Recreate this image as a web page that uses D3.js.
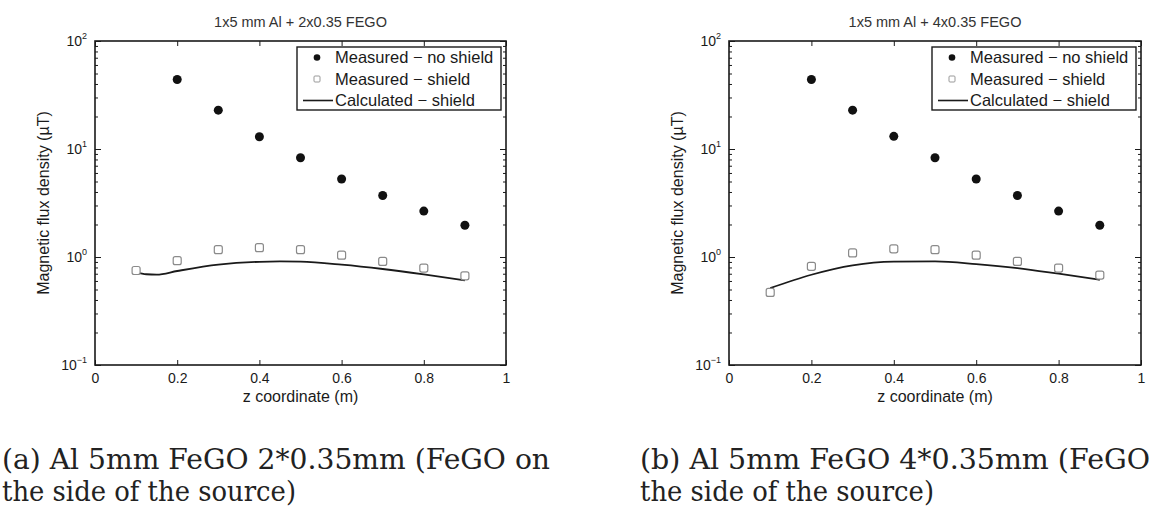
<!DOCTYPE html>
<html>
<head>
<meta charset="utf-8">
<script src="https://cdn.jsdelivr.net/npm/d3@7/dist/d3.min.js"></script>
<style>
  html, body { margin: 0; padding: 0; background: #fff; }
  svg { display: block; }
</style>
</head>
<body>
<svg id="chart" width="1152" height="514"></svg>
<script>
// ---------------- DATA ----------------
const titles = ["1x5 mm Al + 2x0.35 FEGO", "1x5 mm Al + 4x0.35 FEGO"];
const captionsA = ["(a) Al 5mm FeGO 2*0.35mm (FeGO on", "the side of the source)"];
const captionsB = ["(b) Al 5mm FeGO 4*0.35mm (FeGO", "the side of the source)"];
const legendLabels = ["Measured \u2212 no shield", "Measured \u2212 shield", "Calculated \u2212 shield"];
const xLabel = "z coordinate (m)";
const yLabel = "Magnetic flux density (\u00B5T)";

const xTicks = [0, 0.2, 0.4, 0.6, 0.8, 1];
const xTickLabels = ["0", "0.2", "0.4", "0.6", "0.8", "1"];
const yTicks = [0.1, 1, 10, 100];
const yTickExponents = ["\u22121", "0", "1", "2"];

const zNoShield = [0.2, 0.3, 0.4, 0.5, 0.6, 0.7, 0.8, 0.9];
const noShieldA = [44, 22.9, 13.0, 8.3, 5.27, 3.71, 2.66, 1.97];
const noShieldB = [44, 22.9, 13.1, 8.3, 5.27, 3.71, 2.66, 1.97];

const zShield = [0.1, 0.2, 0.3, 0.4, 0.5, 0.6, 0.7, 0.8, 0.9];
const shieldA = [0.75, 0.925, 1.17, 1.22, 1.17, 1.04, 0.91, 0.79, 0.67];
const shieldB = [0.47, 0.82, 1.09, 1.19, 1.17, 1.04, 0.91, 0.79, 0.68];

const zCalcA = [0.1, 0.125, 0.15, 0.2, 0.3, 0.4, 0.45, 0.5, 0.6, 0.7, 0.8, 0.9];
const calcA = [0.721, 0.692, 0.686, 0.742, 0.849, 0.903, 0.91, 0.905, 0.849, 0.774, 0.69, 0.607];
const zCalcB = [0.1, 0.2, 0.3, 0.4, 0.5, 0.6, 0.7, 0.8, 0.9];
const calcB = [0.515, 0.685, 0.837, 0.905, 0.91, 0.86, 0.79, 0.70, 0.615];

// ---------------- DRAW ----------------
const svg = d3.select("#chart");
const FONT = "'Liberation Sans', Arial, sans-serif";
const INK = "#1a1a1a";

function panel(opts) {
  const {left, right, top, bottom, title, noShield, shield, zCalc, calc} = opts;
  const x = d3.scaleLinear().domain([0, 1]).range([left, right]);
  const y = d3.scaleLog().domain([0.1, 100]).range([bottom, top]);
  const g = svg.append("g");

  const minor = [];
  for (let d = 0.1; d < 100; d *= 10) for (let k = 2; k <= 9; k++) minor.push(+(d * k).toPrecision(3));

  const axStyle = sel => {
    sel.select(".domain").remove();
    sel.selectAll(".tick line").attr("stroke", INK).attr("stroke-width", 1);
  };

  g.append("g").attr("transform", `translate(0,${bottom})`)
    .call(d3.axisBottom(x).tickValues(xTicks).tickFormat((d, i) => xTickLabels[i])
      .tickSizeInner(-5).tickSizeOuter(0).tickPadding(8))
    .call(axStyle)
    .call(s => s.selectAll("text").attr("font-family", FONT).attr("font-size", 14).attr("fill", INK));
  g.append("g").attr("transform", `translate(0,${top})`)
    .call(d3.axisTop(x).tickValues(xTicks).tickFormat("").tickSizeInner(-5).tickSizeOuter(0))
    .call(axStyle);
  const yl = g.append("g").attr("transform", `translate(${left},0)`)
    .call(d3.axisLeft(y).tickValues(yTicks).tickFormat("").tickSizeInner(-6).tickSizeOuter(0))
    .call(axStyle);
  yl.selectAll(".tick").each(function(d, i) {
    const t = d3.select(this).append("text")
      .attr("x", -8).attr("y", 4).attr("text-anchor", "end")
      .attr("font-family", FONT).attr("font-size", 14).attr("fill", INK);
    t.append("tspan").text("10");
    t.append("tspan").attr("dy", -7).attr("font-size", 9).text(yTickExponents[i]);
  });
  g.append("g").attr("transform", `translate(${left},0)`)
    .call(d3.axisLeft(y).tickValues(minor).tickFormat("").tickSizeInner(-3).tickSizeOuter(0))
    .call(axStyle);
  g.append("g").attr("transform", `translate(${right},0)`)
    .call(d3.axisRight(y).tickValues(yTicks).tickFormat("").tickSizeInner(-6).tickSizeOuter(0))
    .call(axStyle);
  g.append("g").attr("transform", `translate(${right},0)`)
    .call(d3.axisRight(y).tickValues(minor).tickFormat("").tickSizeInner(-3).tickSizeOuter(0))
    .call(axStyle);

  g.append("rect").attr("x", left).attr("y", top).attr("width", right - left).attr("height", bottom - top)
    .attr("fill", "none").attr("stroke", INK).attr("stroke-width", 1.6);

  g.append("text").attr("x", (left + right) / 2).attr("y", top - 14).attr("text-anchor", "middle")
    .attr("font-family", FONT).attr("font-size", 14.5).attr("fill", "#333").text(title);
  g.append("text").attr("x", (left + right) / 2).attr("y", bottom + 37).attr("text-anchor", "middle")
    .attr("font-family", FONT).attr("font-size", 16).attr("fill", INK).text(xLabel);
  g.append("text").attr("transform", `translate(${left - 46},${(top + bottom) / 2}) rotate(-90)`)
    .attr("text-anchor", "middle").attr("font-family", FONT).attr("font-size", 16).attr("fill", INK).text(yLabel);

  const line = d3.line().x(d => x(d[0])).y(d => y(d[1])).curve(d3.curveMonotoneX);
  g.append("path").datum(zCalc.map((z, i) => [z, calc[i]]))
    .attr("d", line).attr("fill", "none").attr("stroke", INK).attr("stroke-width", 1.8);

  g.selectAll(".sq").data(zShield.map((z, i) => [z, shield[i]])).enter().append("rect")
    .attr("x", d => x(d[0]) - 4).attr("y", d => y(d[1]) - 4).attr("width", 8).attr("height", 8)
    .attr("rx", 2).attr("fill", "#fff").attr("stroke", "#8a8a8a").attr("stroke-width", 1.2);

  g.selectAll(".dot").data(zNoShield.map((z, i) => [z, noShield[i]])).enter().append("circle")
    .attr("cx", d => x(d[0])).attr("cy", d => y(d[1])).attr("r", 4.5).attr("fill", "#111");

  const lx = right - 209, ly = top + 6, lw = 204, lh = 63;
  const lg = g.append("g");
  lg.append("rect").attr("x", lx).attr("y", ly).attr("width", lw).attr("height", lh)
    .attr("fill", "#fff").attr("stroke", INK).attr("stroke-width", 1.4);
  const rows = [ly + 10.5, ly + 32, ly + 53.5];
  lg.append("circle").attr("cx", lx + 20).attr("cy", rows[0]).attr("r", 3.3).attr("fill", "#111");
  lg.append("rect").attr("x", lx + 17).attr("y", rows[1] - 3).attr("width", 6).attr("height", 6)
    .attr("rx", 1).attr("fill", "#fff").attr("stroke", "#999").attr("stroke-width", 1);
  lg.append("line").attr("x1", lx + 6).attr("x2", lx + 36).attr("y1", rows[2]).attr("y2", rows[2])
    .attr("stroke", INK).attr("stroke-width", 1.6);
  legendLabels.forEach((t, i) => {
    lg.append("text").attr("x", lx + 38).attr("y", rows[i] + 5.5)
      .attr("font-family", FONT).attr("font-size", 16.5).attr("fill", INK).text(t);
  });
}

panel({left: 95, right: 506, top: 41, bottom: 365, title: titles[0],
  noShield: noShieldA, shield: shieldA, zCalc: zCalcA, calc: calcA});
panel({left: 729, right: 1141, top: 41, bottom: 365, title: titles[1],
  noShield: noShieldB, shield: shieldB, zCalc: zCalcB, calc: calcB});

const SERIF = "'DejaVu Serif', 'Liberation Serif', serif";
function caption(lines, x0, widths) {
  lines.forEach((t, i) => {
    const el = svg.append("text").attr("x", x0).attr("y", 469 + i * 32)
      .attr("font-family", SERIF).attr("font-size", 27).attr("fill", "#222").text(t);
    if (widths[i]) el.attr("textLength", widths[i]).attr("lengthAdjust", "spacingAndGlyphs");
  });
}
caption(captionsA, 2, [548, 294]);
caption(captionsB, 640, [510, 294]);
</script>
</body>
</html>
